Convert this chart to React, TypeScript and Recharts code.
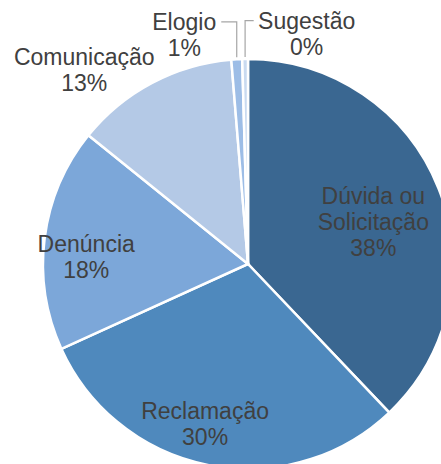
import React from 'react';
import { PieChart, Pie, Cell } from 'recharts';

const categories = ['Dúvida ou Solicitação', 'Reclamação', 'Denúncia', 'Comunicação', 'Elogio', 'Sugestão'];
const shares = [37.9, 30.3, 17.6, 12.9, 0.85, 0.45];
const labelText = [['Dúvida ou', 'Solicitação'], ['Reclamação'], ['Denúncia'], ['Comunicação'], ['Elogio'], ['Sugestão']];
const colors = ['#3A6791', '#4F89BD', '#7CA7D9', '#B4C9E6', '#9DBDE6', '#C9DAF0'];

// label placement: radius factor of outerRadius, angle nudge (deg), leader line end offset
const labelPlace = [
  { r: 0.645, da: -3.2, leader: 0 },
  { r: 0.81, da: -4, leader: 0 },
  { r: 0.79, da: 4.7, leader: 0 },
  { r: 1.24, da: 12.2, leader: 0 },
  { r: 1.16, da: 12.4, leader: 37 },
  { r: 1.16, da: -15.1, leader: -53 },
];

const data = categories.map((name, i) => ({ name, value: shares[i] }));
const RAD = Math.PI / 180;

const renderLabel = (props: any) => {
  const { cx, cy, midAngle, outerRadius, index, percent } = props;
  const place = labelPlace[index];
  const a = (midAngle + place.da) * RAD;
  const x = cx + outerRadius * place.r * Math.cos(a);
  const y = cy - outerRadius * place.r * Math.sin(a);
  const lines = [...labelText[index], `${Math.round(percent * 100)}%`];
  const top = y - ((lines.length - 1) * 26) / 2 + 8;
  let leader = null;
  if (place.leader) {
    const ex = cx + outerRadius * Math.cos(midAngle * RAD);
    const ey = cy - outerRadius * Math.sin(midAngle * RAD);
    const ly = top - 8;
    leader = (
      <polyline
        points={`${ex},${ey - 2} ${ex},${ly} ${x + place.leader},${ly}`}
        fill="none"
        stroke="#A6A6A6"
        strokeWidth={1.2}
      />
    );
  }
  return (
    <g key={`lbl-${index}`}>
      {leader}
      <text x={x} y={top} textAnchor="middle" fill="#404040" fontSize={23} fontFamily="'Liberation Sans', Arial, sans-serif">
        {lines.map((t, i) => (
          <tspan key={i} x={x} y={top + i * 26}>{t}</tspan>
        ))}
      </text>
    </g>
  );
};

export default function App() {
  return (
    <div style={{ position: 'absolute', left: 0, top: 0, background: '#fff' }}>
      <PieChart width={441} height={464} margin={{ top: 0, right: 0, bottom: 0, left: 0 }}>
        <Pie
          data={data}
          dataKey="value"
          nameKey="name"
          cx={248}
          cy={264}
          outerRadius={205}
          startAngle={90}
          endAngle={-270}
          stroke="#fff"
          strokeWidth={2.5}
          label={renderLabel}
          labelLine={false}
          isAnimationActive={false}
        >
          {data.map((d, i) => (
            <Cell key={d.name} fill={colors[i]} />
          ))}
        </Pie>
      </PieChart>
    </div>
  );
}
